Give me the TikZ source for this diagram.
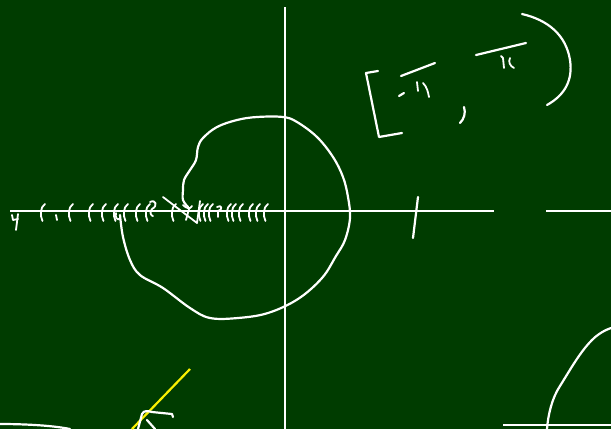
\documentclass[tikz,border=0pt]{standalone}
\usetikzlibrary{calc}
\definecolor{board}{RGB}{0,60,0}
\definecolor{chalkyellow}{RGB}{250,240,0}
\tikzset{
  chalk/.style={draw=white, line width=2.2pt, line cap=round, line join=round},
  thin chalk/.style={draw=white, line width=1.8pt, line cap=round, line join=round},
  axisline/.style={draw=white, line width=2.2pt},
}
\begin{document}
\begin{tikzpicture}[x=1pt,y=-1pt]
\fill[board] (0,0) rectangle (611,429);
\useasboundingbox (0,0) rectangle (611,429);
% axes
\draw[axisline] (285,7) -- (285,429);
\draw[axisline] (10,211) -- (494,211);
\draw[axisline] (546,211) -- (611,211);
\draw[chalk] (418,197) -- (413,238);
% interval [ -pi , pi )
\draw[chalk] (378,71) -- (366,73) -- (379,137) -- (402,133);
\draw[chalk] (401,76) -- (435,63);
\draw[chalk] (399,96) -- (404,93);
\draw[thin chalk] (417,82) -- (418,91);
\draw[thin chalk] (423,83) .. controls (427,87) and (428,92) .. (429,97);
\draw[chalk] (464,107) .. controls (466,113) and (464,119) .. (460,123);
\draw[chalk] (476,55) -- (526,43);
\draw[thin chalk] (501,56) -- (503,58) -- (504,68);
\draw[thin chalk] (510,58) .. controls (508,62) and (510,66) .. (514,68);
\draw[chalk] (522,14) .. controls (548,20) and (566,35) .. (570,60)
  .. controls (573,80) and (565,95) .. (547,105);
% closed curve
\draw[chalk] plot[smooth, tension=0.6] coordinates {
 (188,207) (183,200) (183,190) (184,180) (190,170) (196,160) (198,147)
 (203,138) (217,127) (237,120) (257,117) (283,117) (297,122) (317,137)
 (333,157) (343,177) (348,197) (350,218) (345,240) (336,256) (322,278)
 (298,299) (268,313) (238,318) (210,318) (190,308) (163,288) (140,275)
 (130,260) (123,237) (120,215)};
% tick marks on the negative axis
\foreach \x in {42,70,90,103,115,125,137,147,173,200,205,210,228,233,240,250,257,265}{
  \draw[thin chalk] (\x+3,204) .. controls (\x-2,207) and (\x-2,216) .. (\x+0.5,221);
}
\draw[thin chalk] (56,215) -- (57,220);
\draw[thin chalk] (12,215) -- (13,220) -- (18,219);
\draw[thin chalk] (18,214) -- (16,230);
\draw[thin chalk] (116,213) .. controls (115,218) and (117,220) .. (120,219);
\draw[thin chalk] (150,202) .. controls (156,199) and (158,206) .. (152,209)
  .. controls (149,212) and (151,216) .. (153,216);
\draw[thin chalk] (163,197) -- (197,223) -- (200,201);
\draw[thin chalk] (183,205) .. controls (186,208) and (190,210) .. (192,206);
\draw[thin chalk] (189,209) -- (186,220);
\draw[thin chalk] (217,207) .. controls (222,204) and (223,210) .. (218,211) -- (218,217);
% yellow line
\draw[draw=chalkyellow, line width=2.2pt] (190,369) -- (132,429);
% white strokes near yellow line
\draw[chalk] (138,429) -- (142,414) .. controls (144,410) and (148,411) .. (152,412)
  -- (172,414) -- (173,417);
\draw[chalk] (147,420) -- (155,429);
% bottom-left curve
\draw[chalk] (0,424) .. controls (20,424) and (50,425) .. (70,429);
% bottom-right
\draw[axisline] (503,425) -- (611,425);
\draw[chalk] (547,429) .. controls (548,415) and (552,398) .. (560,386)
  .. controls (570,370) and (580,352) .. (592,340)
  .. controls (598,334) and (605,330) .. (611,328);
\end{tikzpicture}
\end{document}
